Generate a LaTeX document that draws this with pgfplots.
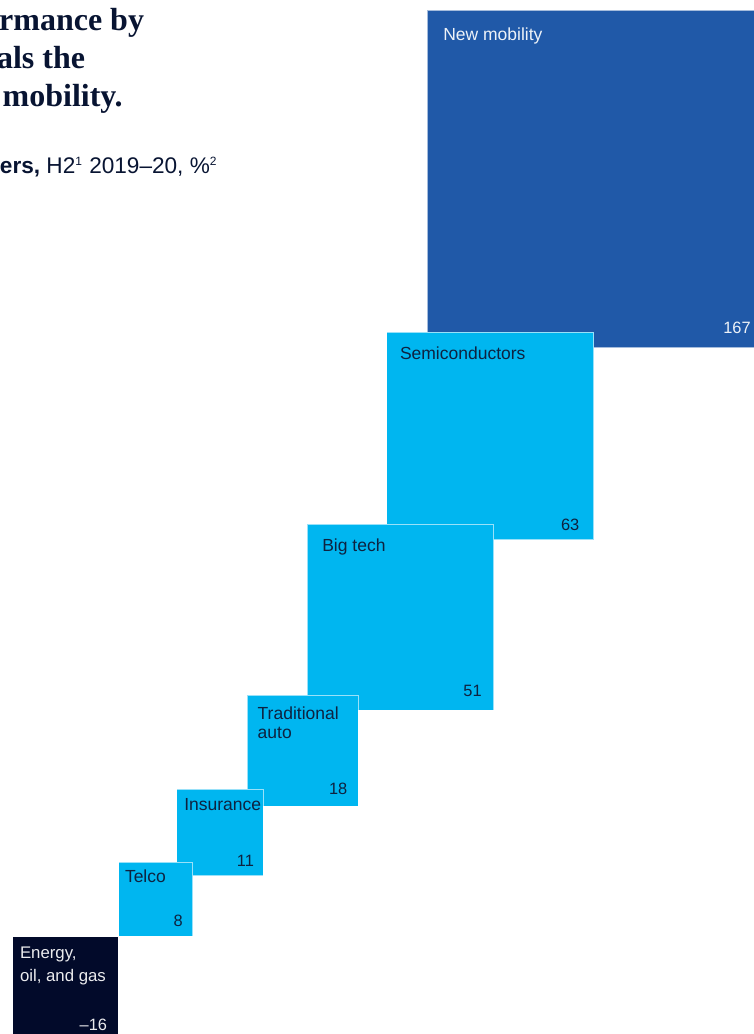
\documentclass[border=0pt]{standalone}
\usepackage{pgfplots}
\pgfplotsset{compat=1.18}
\usepackage{fontspec}
\setmainfont{Liberation Sans}
\newfontfamily\titlefont{Liberation Serif}
\definecolor{nmblue}{RGB}{32,89,168}
\definecolor{skycyan}{RGB}{0,182,240}
\definecolor{navy}{RGB}{2,10,42}
\definecolor{inktext}{RGB}{14,34,64}
\definecolor{titleink}{RGB}{8,20,50}
\tikzset{
  lbl/.style={inner sep=0pt, outer sep=0pt, anchor=base west, font=\fontsize{8.75}{10}\selectfont},
  val/.style={inner sep=0pt, outer sep=0pt, anchor=base east, font=\fontsize{8.2}{10}\selectfont},
  ttl/.style={inner sep=0pt, outer sep=0pt, anchor=base east, text=titleink, font=\titlefont\bfseries\fontsize{16}{19}\selectfont},
  sq/.style={draw=white, draw opacity=0.6, line width=0.5pt},
}
\begin{document}
\begin{tikzpicture}
\begin{axis}[
  x=0.5pt, y=0.5pt, y dir=reverse,
  xmin=0, xmax=754, ymin=0, ymax=1034,
  hide axis, clip=true,
]
% squares: side proportional to sqrt(|value|)
\addplot[fill=nmblue, sq] coordinates {(427,10.3) (764.4,10.3) (764.4,347.6) (427,347.6)} -- cycle;
\addplot[fill=skycyan, sq] coordinates {(386.7,332.3) (593.9,332.3) (593.9,539.5) (386.7,539.5)} -- cycle;
\addplot[fill=skycyan, sq] coordinates {(307.3,524) (493.7,524) (493.7,710.4) (307.3,710.4)} -- cycle;
\addplot[fill=skycyan, sq] coordinates {(247.3,695.3) (358,695.3) (358,806) (247.3,806)} -- cycle;
\addplot[fill=skycyan, sq] coordinates {(176.7,789) (263.3,789) (263.3,875.6) (176.7,875.6)} -- cycle;
\addplot[fill=skycyan, sq] coordinates {(118.7,862.3) (192.5,862.3) (192.5,936.1) (118.7,936.1)} -- cycle;
\addplot[fill=navy, draw=none] coordinates {(13.3,936.7) (117.7,936.7) (117.7,1041.1) (13.3,1041.1)} -- cycle;

% category names
\node[lbl, text=white!92!nmblue] at (axis cs:443.3,40.8) {New mobility};
\node[lbl, text=inktext] at (axis cs:400,359.5) {Semiconductors};
\node[lbl, text=inktext] at (axis cs:322.3,551) {Big tech};
\node[lbl, text=inktext] at (axis cs:257.7,719.3) {Traditional};
\node[lbl, text=inktext] at (axis cs:257.7,738.5) {auto};
\node[lbl, text=inktext] at (axis cs:184.3,810) {Insurance};
\node[lbl, text=inktext] at (axis cs:125,882) {Telco};
\node[lbl, text=white!92!navy, font=\fontsize{8.4}{10}\selectfont] at (axis cs:20,958.5) {Energy,};
\node[lbl, text=white!92!navy, font=\fontsize{8.4}{10}\selectfont] at (axis cs:20,981.5) {oil, and gas};

% values
\node[val, text=white!92!nmblue] at (axis cs:750.7,333.3) {167};
\node[val, text=inktext] at (axis cs:579.3,530) {63};
\node[val, text=inktext] at (axis cs:481.7,696) {51};
\node[val, text=inktext] at (axis cs:347.3,794) {18};
\node[val, text=inktext] at (axis cs:254,866.7) {11};
\node[val, text=inktext] at (axis cs:182.7,926.7) {8};
\node[val, text=white!92!navy] at (axis cs:107,1030.7) {\char"2013 16};

% title fragments (cropped on the left, as in the reference)
\node[ttl] at (axis cs:144,30.7) {rmance by};
\node[ttl] at (axis cs:85,68.5) {als the};
\node[ttl] at (axis cs:122.7,106) {mobility.};
\node[inner sep=0pt, anchor=base east, text=titleink, font=\fontsize{11.3}{13}\selectfont] at (axis cs:218,173) {\textbf{ers,} H2\textsuperscript{\fontsize{6}{7}\selectfont 1} 2019\char"2013 20, \%\textsuperscript{\fontsize{6}{7}\selectfont 2}};
\end{axis}
\pgfresetboundingbox
\path[use as bounding box] (current axis.south west) rectangle (current axis.north east);
\end{tikzpicture}
\end{document}
